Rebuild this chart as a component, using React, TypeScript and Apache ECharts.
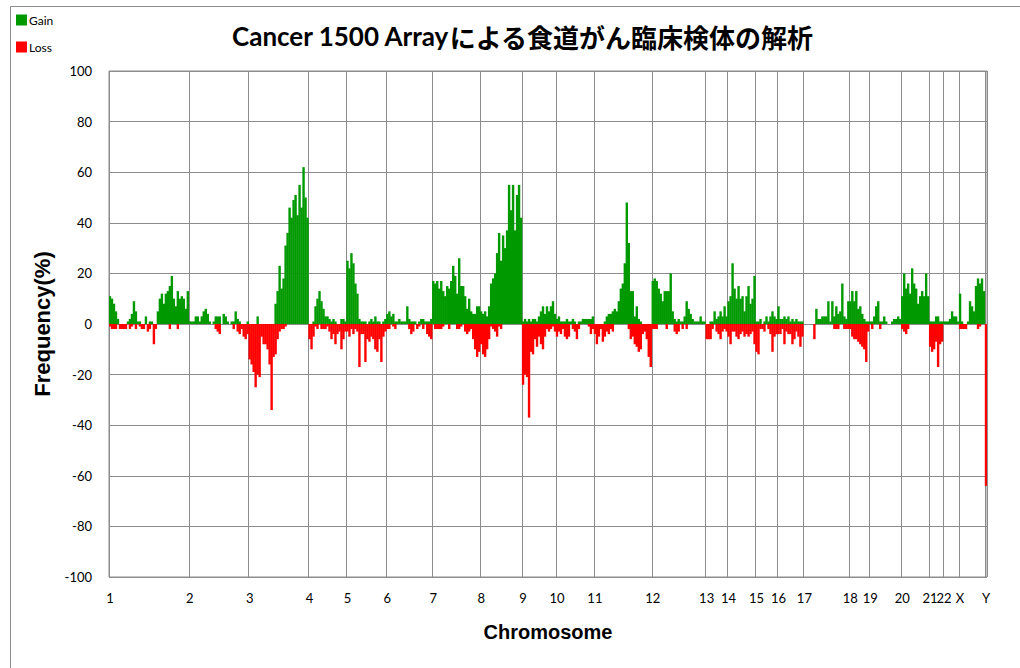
import React, { useEffect, useRef } from "react";
import * as echarts from "echarts";

// Chromosome names, in order along the x axis
const chromosomeNames = ["1","2","3","4","5","6","7","8","9","10","11","12","13","14","15","16","17","18","19","20","21","22","X","Y"];

// Gain frequency (%) per probe bin, per chromosome
const gainChr1 = [11,10,8,5,2,0,0,0,0,1,2,4,9,5,1,1,0,0,3,0,1,1,0,0,5,10,12,8,12,13,15,19,10,7,13,10,11,10,6,13];
const gainChr2 = [1,1,1,3,3,1,3,5,6,4,1,0,1,3,3,3,0,4,3,1,0,1,1,5,2,1,0,0,0,1];
const gainChr3 = [0,0,0,0,3,0,0,0,0,0,0,0,0,8,13,23,14,18,31,36,46,42,49,51,43,55,46,62,50,42];
const gainChr4 = [0,0,1,7,10,13,9,6,3,3,2,1,2,1,0,0,2,2,1];
const gainChr5 = [25,22,28,24,16,12,2,1,1,1,0,1,2,1,3,1,1,0,1,2];
const gainChr6 = [4,5,3,4,1,1,2,1,1,1,7,2,1,1,1,0,1,2,2,1,1,1,2];
const gainChr7 = [17,16,17,14,17,13,11,15,14,17,23,19,12,26,15,15,11,6,10,5,4,4,7,7];
const gainChr8 = [5,4,5,3,7,16,18,20,28,36,25,35,30,37,55,45,55,37,51,55,42];
const gainChr9 = [1,2,1,2,1,2,2,1,3,5,7,4,7,5,7,9,4];
const gainChr10 = [2,3,1,1,1,2,1,1,2,1,0,1,1,2,2,2,2,2,3];
const gainChr11 = [0,0,0,0,0,1,3,4,4,5,6,5,9,14,16,24,48,32,13,13,3,7,2,1,0,0,0,0,0];
const gainChr12 = [17,18,17,14,12,9,13,13,13,20,5,2,1,2,1,1,3,9,6,4,2,1,1,1,3,1,1];
const gainChr13 = [0,0,1,1,5,2,3,5,3,7,3];
const gainChr14 = [9,11,24,14,10,15,10,11,5,11,15,8,10,19];
const gainChr15 = [1,1,2,0,1,3,1,3,5,3,2];
const gainChr16 = [7,2,2,3,2,3,1,2,1,2,1,1,1];
const gainChr17 = [0,0,0,0,0,0,6,2,2,3,3,3,9,1,9,3,7,4,5,16,3,2,9];
const gainChr18 = [9,13,9,13,6,7,4,2,1,1];
const gainChr19 = [1,1,3,7,9,1,1,3,1,0,0,1,2,2,3,2];
const gainChr20 = [11,20,14,16,12,22,16,14,8,11,13,11,20,11];
const gainChr21 = [1,1,1,3,3,1,1];
const gainChr22 = [1,1,1,2,5,3,3,1];
const gainChrX = [12,1,0,0,1,9,7,5,15,18,16,18,13];
const gainChrY = [0];

// Loss frequency (%) per probe bin, per chromosome
const lossChr1 = [-1,-2,-2,-2,0,-2,-2,-2,-2,0,-2,-1,0,-2,0,-1,-2,-2,0,-3,-2,0,-8,-2,0,0,0,0,0,0,-2,0,0,0,-2,0,0,0,0,0];
const lossChr2 = [0,0,0,0,0,0,0,0,0,0,0,0,0,-2,-3,-4,0,0,0,0,0,0,-2,0,-3,-4,-2,-5,-6,-4];
const lossChr3 = [-14,-16,-19,-25,-20,-21,-5,-8,-8,-10,-16,-34,-13,-12,-6,-3,-2,-2,-1,0,0,0,0,0,0,0,0,0,0,0];
const lossChr4 = [-6,-10,-5,-1,-2,0,-2,-2,-2,-1,-3,-6,-4,-8,-4,-3,-10,-6,-3];
const lossChr5 = [-3,-5,-2,-4,-2,-3,-17,-4,-4,-15,-6,-7,-5,-6,-10,-11,-6,-15,-5,-3];
const lossChr6 = [-2,-2,0,-1,-2,0,0,0,0,0,0,-2,-4,-3,0,-2,-1,0,-2,0,-4,-5,-6];
const lossChr7 = [0,-2,-2,-2,-2,-1,0,0,-2,0,0,0,-2,-2,-1,0,-3,-4,-3,-2,-6,-10,-13,-11];
const lossChr8 = [-8,-12,-13,-10,-6,-1,-2,-3,-5,-1,-2,0,0,0,0,0,0,0,0,0,0];
const lossChr9 = [-24,-20,-21,-37,-11,-12,-6,-9,-5,-8,-10,-5,-2,-3,-2,-1,-3];
const lossChr10 = [-5,-3,-4,-2,-5,-6,-5,0,-2,-3,-6,-2,0,0,0,0,-1,-4,-2];
const lossChr11 = [-4,-8,-5,-2,-7,-5,-3,-4,-2,-3,0,0,0,0,0,0,0,-2,-6,-5,-8,-9,-11,-10,-4,-3,-6,-13,-17];
const lossChr12 = [-2,-2,-2,0,0,0,0,-2,0,0,0,-3,-4,-3,0,-2,0,-2,0,0,0,0,0,0,0,0,0];
const lossChr13 = [-6,-6,-6,-2,0,-3,-4,-6,-3,-2,-3];
const lossChr14 = [-5,-8,-3,-3,-5,-6,-4,-3,-5,-4,-5,-4,-3,-8];
const lossChr15 = [-11,-12,-2,-2,-3,0,-2,-4,-11,-5,-4];
const lossChr16 = [-4,-4,-2,-8,-3,-4,-4,-8,-6,-3,-5,-9,-5];
const lossChr17 = [0,0,0,0,0,-6,0,0,0,0,0,0,0,0,0,-2,-2,-2,0,0,-2,-2,-2];
const lossChr18 = [-2,-5,-6,-6,-7,-8,-9,-10,-15,-3];
const lossChr19 = [0,-2,0,0,0,-2,0,0,0,0,0,0,0,0,0,0];
const lossChr20 = [-2,-3,-4,-2,0,0,0,0,0,0,0,0,0,0];
const lossChr21 = [-9,-11,-10,-7,-17,-8,-7];
const lossChr22 = [0,0,0,0,0,0,0,0];
const lossChrX = [-2,-2,-2,-2,0,0,0,0,0,-2,-1,0,0];
const lossChrY = [-64];

const gainByChr = [gainChr1,gainChr2,gainChr3,gainChr4,gainChr5,gainChr6,gainChr7,gainChr8,gainChr9,gainChr10,gainChr11,gainChr12,gainChr13,gainChr14,gainChr15,gainChr16,gainChr17,gainChr18,gainChr19,gainChr20,gainChr21,gainChr22,gainChrX,gainChrY];
const lossByChr = [lossChr1,lossChr2,lossChr3,lossChr4,lossChr5,lossChr6,lossChr7,lossChr8,lossChr9,lossChr10,lossChr11,lossChr12,lossChr13,lossChr14,lossChr15,lossChr16,lossChr17,lossChr18,lossChr19,lossChr20,lossChr21,lossChr22,lossChrX,lossChrY];

// y axis
const yMin = -100;
const yMax = 100;
const yStep = 20;

const titleLatin = "Cancer 1500 Array";
const titleJapanese = "による食道がん臨床検体の解析";

export default function App() {
  const ref = useRef<HTMLDivElement>(null);

  useEffect(() => {
    if (!ref.current) return;
    const chart = echarts.init(ref.current, undefined, { renderer: "svg" });

    const categories: string[] = [];
    const gain: number[] = [];
    const loss: number[] = [];
    const starts = new Set<number>();
    chromosomeNames.forEach((name, c) => {
      const g = gainByChr[c];
      const l = lossByChr[c];
      starts.add(categories.length);
      for (let k = 0; k < g.length; k++) {
        categories.push(name + ":" + k);
        gain.push(g[k]);
        loss.push(l[k] ?? 0);
      }
    });

    const isStart = (index: number) => starts.has(index);
    const latinFont = "Lato, 'Noto Sans', sans-serif";

    chart.setOption({
      animation: false,
      backgroundColor: "#ffffff",
      title: {
        left: 227,
        top: 18,
        text: "{a|" + titleLatin + "}{b|" + titleJapanese + "}",
        textStyle: {
          rich: {
            a: { fontFamily: "Lato, 'Noto Sans CJK JP', sans-serif", fontWeight: "bold", fontSize: 26, color: "#000" },
            b: { fontFamily: "'Noto Sans CJK JP', sans-serif", fontWeight: "bold", fontSize: 26, color: "#000" },
          },
        },
      },
      legend: {
        orient: "vertical",
        left: 16,
        top: 14,
        padding: 0,
        itemWidth: 11,
        itemHeight: 11,
        itemGap: 15,
        icon: "rect",
        textStyle: { fontFamily: latinFont, fontSize: 12, color: "#000", padding: [0, 0, 0, -3] },
        data: ["Gain", "Loss"],
      },
      graphic: [
        {
          type: "rect",
          silent: true,
          shape: { x: 10.5, y: 6.5, width: 1100, height: 800 },
          style: { fill: "none", stroke: "#8c8c8c", lineWidth: 1 },
        },
      ],
      grid: {
        left: 109,
        right: 33,
        top: 71,
        bottom: 91,
        show: true,
        borderColor: "#8c8c8c",
        borderWidth: 1,
        containLabel: false,
      },
      xAxis: {
        type: "category",
        data: categories,
        boundaryGap: true,
        name: "Chromosome",
        nameLocation: "middle",
        nameGap: 45,
        nameTextStyle: { fontFamily: "'Liberation Sans', Arial, sans-serif", fontWeight: "bold", fontSize: 20, color: "#000" },
        axisLine: { show: false },
        axisTick: { show: false },
        axisLabel: {
          interval: (index: number) => isStart(index),
          formatter: (v: string) => v.split(":")[0],
          fontFamily: latinFont,
          fontSize: 13,
          color: "#000",
          margin: 14,
        },
        splitLine: {
          show: true,
          interval: (index: number) => isStart(index),
          lineStyle: { color: "#8c8c8c", width: 1 },
        },
      },
      yAxis: {
        type: "value",
        min: yMin,
        max: yMax,
        interval: yStep,
        name: "Frequency(%)",
        nameLocation: "middle",
        nameGap: 50,
        nameTextStyle: { fontFamily: "'Liberation Sans', Arial, sans-serif", fontWeight: "bold", fontSize: 22, color: "#000" },
        axisLine: { show: false },
        axisTick: { show: false },
        axisLabel: { fontFamily: latinFont, fontSize: 13, color: "#000", margin: 17 },
        splitLine: { show: true, lineStyle: { color: "#8c8c8c", width: 1 } },
      },
      series: [
        {
          name: "Gain",
          type: "bar",
          data: gain,
          barWidth: 2.4,
          barGap: "-100%",
          itemStyle: { color: "#009900" },
        },
        {
          name: "Loss",
          type: "bar",
          data: loss,
          barWidth: 2.4,
          barGap: "-100%",
          itemStyle: { color: "#ff0000" },
        },
      ],
    });

    return () => chart.dispose();
  }, []);

  return (
    <div
      ref={ref}
      style={{ position: "absolute", left: 0, top: 0, width: 1020, height: 668, background: "#fff" }}
    />
  );
}
